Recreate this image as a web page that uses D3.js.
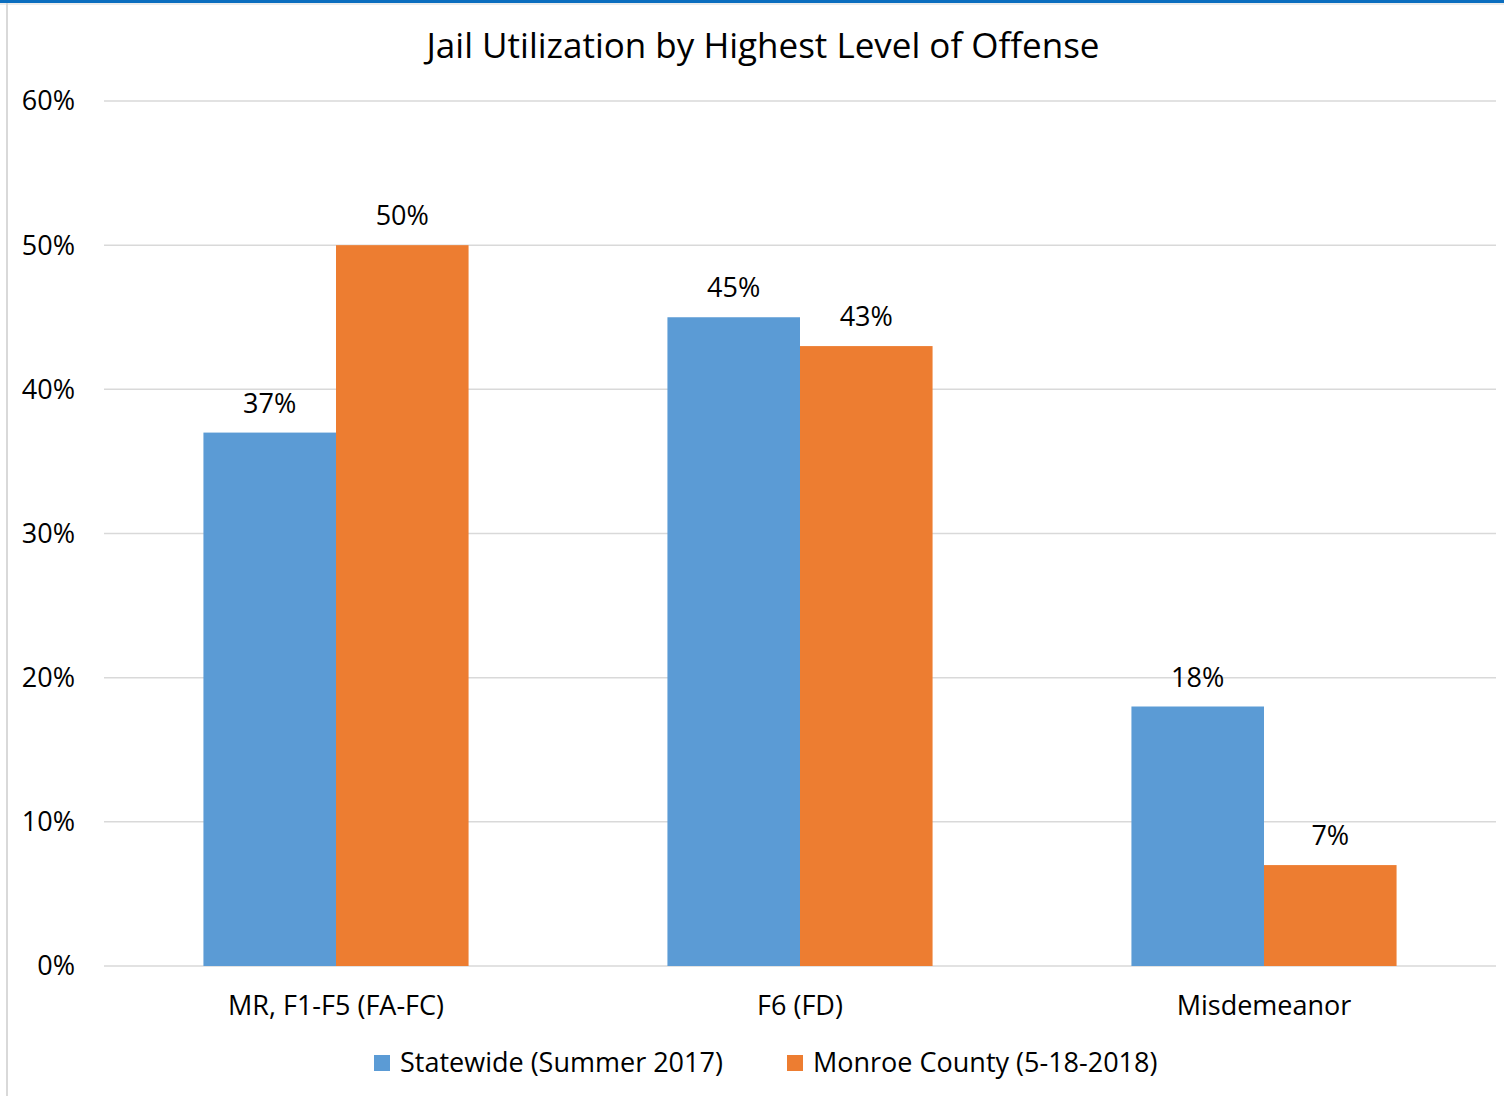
<!DOCTYPE html>
<html><head><meta charset="utf-8">
<script src="https://cdn.jsdelivr.net/npm/d3@7"></script>
<style>body{margin:0;background:#fff;} svg{display:block;} text{font-family:"Open Sans",Lato,sans-serif;fill:#000;}</style>
</head><body>
<svg id="c" width="1504" height="1096"></svg>
<script>
const categories = ["MR, F1-F5 (FA-FC)", "F6 (FD)", "Misdemeanor"];
const seriesNames = ["Statewide (Summer 2017)", "Monroe County (5-18-2018)"];
const statewide = [37, 45, 18];
const monroe = [50, 43, 7];
const yTicks = [0, 10, 20, 30, 40, 50, 60];
const colors = ["#5b9bd5", "#ed7d31"];
const title = "Jail Utilization by Highest Level of Offense";

const svg = d3.select("#c");
svg.append("rect").attr("x",0).attr("y",0).attr("width",1504).attr("height",3).attr("fill","#0b6ebf");
svg.append("rect").attr("x",0).attr("y",3).attr("width",1504).attr("height",2).attr("fill","#ececec");
svg.append("rect").attr("x",6).attr("y",3).attr("width",2).attr("height",1093).attr("fill","#d9d9d9");

const x0 = d3.scaleBand().domain(categories).range([104,1496]).paddingInner(0.4286).paddingOuter(0.2143);
const x1 = d3.scaleBand().domain([0,1]).range([0,x0.bandwidth()]);
const y = d3.scaleLinear().domain([0,60]).range([966,101]);

svg.append("g").selectAll("line").data(yTicks).join("line")
  .attr("x1",104).attr("x2",1496).attr("y1",d=>y(d)).attr("y2",d=>y(d))
  .attr("stroke","#d9d9d9").attr("stroke-width",1.5);

const fs = 27;
svg.append("g").selectAll("text").data(yTicks).join("text")
  .attr("x",75).attr("y",d=>y(d)).attr("dy","0.35em").attr("text-anchor","end")
  .attr("font-size",fs).text(d=>d+"%");

const data = [statewide, monroe];
data.forEach((vals,si)=>{
  const g = svg.append("g");
  g.selectAll("rect").data(vals).join("rect")
    .attr("x",(d,i)=>x0(categories[i])+x1(si)).attr("width",x1.bandwidth())
    .attr("y",d=>y(d)).attr("height",d=>y(0)-y(d)).attr("fill",colors[si]);
  g.selectAll("text").data(vals).join("text")
    .attr("x",(d,i)=>x0(categories[i])+x1(si)+x1.bandwidth()/2).attr("y",d=>y(d)-20)
    .attr("text-anchor","middle").attr("font-size",fs).text(d=>d+"%");
});

svg.append("g").selectAll("text").data(categories).join("text")
  .attr("x",d=>x0(d)+x0.bandwidth()/2).attr("y",1006).attr("dy","0.35em")
  .attr("text-anchor","middle").attr("font-size",fs).text(d=>d);

svg.append("text").attr("x",763).attr("y",46).attr("dy","0.35em").attr("text-anchor","middle")
  .attr("font-size",35).text(title);

const legX = [374, 787];
seriesNames.forEach((n,i)=>{
  svg.append("rect").attr("x",legX[i]).attr("y",1055).attr("width",16).attr("height",16).attr("fill",colors[i]);
  svg.append("text").attr("x",legX[i]+26).attr("y",1063).attr("dy","0.35em").attr("font-size",fs).text(n);
});
</script>
</body></html>
